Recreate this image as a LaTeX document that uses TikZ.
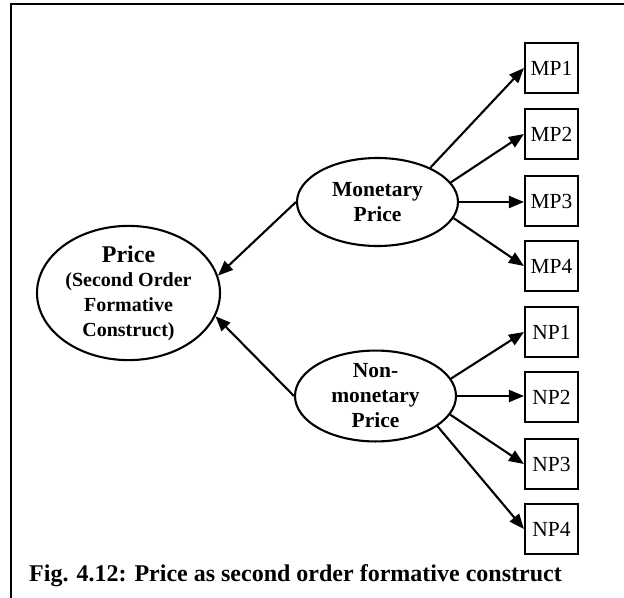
\documentclass[tikz,border=0pt]{standalone}
\usepackage{fontspec}
\setmainfont{Liberation Serif}
\usetikzlibrary{shapes.geometric,arrows.meta}

\tikzset{
  construct/.style={ellipse, draw, line width=2.1bp, inner sep=0pt,
    align=center, font=\bfseries\fontsize{21.5bp}{25bp}\selectfont},
  indicator/.style={rectangle, draw, line width=2.1bp, inner sep=0pt,
    minimum width=53bp, minimum height=50bp,
    font=\fontsize{21.5bp}{25bp}\selectfont},
  link/.style={line width=2.1bp, -{Triangle[length=15bp,width=12bp]}},
  frameline/.style={line width=2.2bp}
}

\begin{document}
\begin{tikzpicture}[x=1bp,y=-1bp]
  \useasboundingbox (0,0) rectangle (624,598);

  % partial outer frame
  \coordinate (fb) at (11,598);
  \coordinate (fc) at (11,4);
  \coordinate (fr) at (624,4);
  \draw[frameline] (fb) -- (fc) -- (fr);

  % second order construct
  \node[construct, minimum width=183bp, minimum height=120bp] (price) at (128.5,293)
    {{\fontsize{24bp}{25bp}\selectfont Price}\\[-1bp]
     {\fontsize{20bp}{24bp}\selectfont (Second Order}\\
     {\fontsize{20bp}{24bp}\selectfont Formative}\\
     {\fontsize{20bp}{24bp}\selectfont Construct)}};

  % first order constructs
  \node[construct, minimum width=161bp, minimum height=88bp] (mon) at (377.5,202)
    {Monetary\\Price};
  \node[construct, minimum width=161bp, minimum height=88bp] (non) at (375.5,396)
    {Non-\\monetary\\Price};

  % indicators
  \node[indicator] (mp1) at (551.5,68)  {MP1};
  \node[indicator] (mp2) at (551.5,134) {MP2};
  \node[indicator] (mp3) at (551.5,201) {MP3};
  \node[indicator] (mp4) at (551.5,266) {MP4};
  \node[indicator] (np1) at (551.5,332) {NP1};
  \node[indicator] (np2) at (551.5,397) {NP2};
  \node[indicator] (np3) at (551.5,464) {NP3};
  \node[indicator] (np4) at (551.5,529) {NP4};

  % formative paths into the second order construct
  \draw[link] (mon.180) -- (price.11.5);
  \draw[link] (non.180) -- (price.-15.5);

  % indicator paths
  \draw[link] (mon.33.7) -- (mp1.west);
  \draw[link] (mon.15)   -- (mp2.west);
  \draw[link] (mon.0)    -- (mon.0 -| mp3.west);
  \draw[link] (mon.-12)  -- (mp4.west);
  \draw[link] (non.13.6) -- (np1.west);
  \draw[link] (non.0)    -- (non.0 -| np2.west);
  \draw[link] (non.-14.7) -- (np3.west);
  \draw[link] (non.-26.7) -- (np4.west);

  % caption
  \node[anchor=base west, inner sep=0pt,
        font=\bfseries\fontsize{24bp}{28bp}\selectfont] (cap) at (29,581)
    {Fig. 4.12: Price as second order formative construct};
\end{tikzpicture}
\end{document}
